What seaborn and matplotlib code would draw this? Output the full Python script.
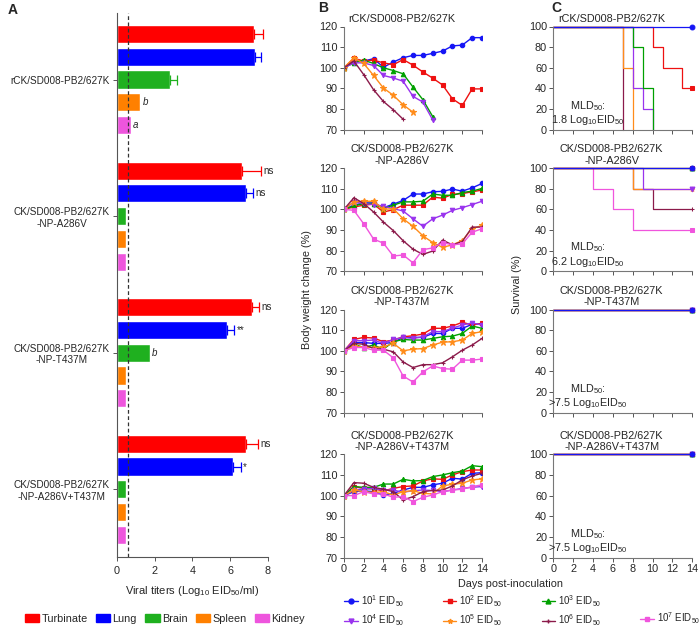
import pandas as pd
import matplotlib
matplotlib.use("Agg")
import matplotlib.pyplot as plt
import seaborn as sns
from matplotlib.lines import Line2D
from matplotlib.patches import Patch

sns.set_style("ticks")
plt.rcParams['font.family'] = ['Liberation Sans', 'DejaVu Sans']
plt.rcParams['mathtext.fontset'] = 'custom'
plt.rcParams['mathtext.rm'] = 'Liberation Sans'
plt.rcParams['mathtext.it'] = 'Liberation Sans:italic'
plt.rcParams['font.size'] = 7.5

# ---------------- data ----------------
viruses = ["rCK/SD008-PB2/627K",
           "CK/SD008-PB2/627K\n-NP-A286V",
           "CK/SD008-PB2/627K\n-NP-T437M",
           "CK/SD008-PB2/627K\n-NP-A286V+T437M"]
organs = ["Turbinate", "Lung", "Brain", "Spleen", "Kidney"]
organ_colors = ["#FF0000", "#0000FF", "#1FB01F", "#FF8000", "#EE55DD"]

titer_turbinate = [7.26, 6.60, 7.17, 6.84]
titer_lung = [7.33, 6.84, 5.85, 6.17]
titer_brain = [2.84, 0.5, 1.75, 0.5]
titer_spleen = [1.25, 0.5, 0.5, 0.5]
titer_kidney = [0.74, 0.5, 0.5, 0.5]

sd_turbinate = [0.50, 1.02, 0.38, 0.64]
sd_lung = [0.30, 0.39, 0.37, 0.39]
sd_brain = [0.36, 0, 0, 0]
sd_spleen = [0, 0, 0, 0]
sd_kidney = [0, 0, 0, 0]

mark_turbinate = ["", "ns", "ns", "ns"]
mark_lung = ["", "ns", "**", "*"]
mark_brain = ["", "", "b", ""]
mark_spleen = ["b", "", "", ""]
mark_kidney = ["a", "", "", ""]

detection_limit = 0.6

doses = ["10$^1$ EID$_{50}$", "10$^2$ EID$_{50}$", "10$^3$ EID$_{50}$", "10$^4$ EID$_{50}$",
         "10$^5$ EID$_{50}$", "10$^6$ EID$_{50}$", "10$^7$ EID$_{50}$"]
dose_colors = ["#1515F5", "#EE1111", "#00A000", "#9933EE", "#FF8C1A", "#8B1A4A", "#F055DD"]
dose_markers = ["o", "s", "^", "v", "*", "+", "s"]

# body weight (%), days 0..14 (shorter = all mice dead)
bw_627k = [
    [100, 103.3, 103.3, 104.4, 100.3, 102.8, 104.9, 106, 106, 107, 108.1, 110.6, 111, 114.6, 114.6],
    [100, 104.6, 103.3, 103.7, 102.4, 101.5, 104, 101.3, 98, 95, 91.7, 85, 81.8, 89.8, 89.8],
    [100, 102.4, 103.7, 102.1, 100, 98.7, 97.1, 90.7, 84.6, 76.4],
    [100, 102.4, 102.4, 101.1, 96.3, 95.1, 93.5, 86.2, 83.4, 74.8],
    [100, 104.9, 102.1, 96.3, 90.2, 86.7, 82.1, 78.5],
    [100, 103.3, 96.7, 89.4, 83.7, 79.7, 75.1],
    [],
]
bw_a286v = [
    [100, 102, 103.1, 103.1, 100.8, 102.5, 104.3, 107.4, 107.4, 108.5, 108.7, 109.8, 108.8, 110.4, 112.5],
    [100, 101.1, 102, 102.5, 98.7, 99.8, 102, 102, 102, 105.9, 105.4, 107.2, 107.6, 108.5, 109.3],
    [100, 101.6, 102.8, 102.8, 100.3, 102, 103.6, 103.6, 103.9, 107.4, 106.8, 106.8, 108.1, 108.8, 110.1],
    [100, 103.6, 102.8, 102.3, 101.5, 100.3, 99.2, 95.4, 91.8, 95.4, 97.2, 99.5, 100.8, 102.3, 103.9],
    [100, 103.6, 103.9, 103.9, 100, 100.3, 95.4, 91.8, 87.2, 83.9, 81.6, 82.8, 84.9, 90.6, 92.2],
    [100, 105.6, 102.8, 98.7, 93.8, 89.7, 84.8, 80.7, 78.2, 79.8, 85.1, 82.8, 84.4, 91.4, 91.4],
    [100, 99.5, 93, 85.6, 83.6, 77.4, 77.9, 74.1, 80.5, 81.3, 83.9, 82.8, 83.3, 88.9, 90.6],
]
bw_t437m = [
    [100, 104, 104, 103.6, 103.6, 104, 106.5, 106.5, 106.5, 108.4, 108.4, 110.9, 110.9, 112.8, 113],
    [100, 105.5, 106.5, 106.2, 104.4, 105.2, 106.8, 107.3, 108.1, 110.9, 110.9, 112, 113.8, 112.5, 113.3],
    [100, 103.2, 101.6, 102.8, 100.8, 104.4, 105.5, 105.2, 105.2, 106, 106.8, 107.1, 108.4, 112, 110.9],
    [100, 104.9, 104.9, 105.2, 103.6, 105.5, 106.5, 106, 106.8, 109.3, 109.3, 111, 112.5, 113.5, 112.5],
    [100, 102.3, 101.9, 101.6, 101.9, 103.6, 100, 100.8, 101.1, 102.8, 104.2, 104.4, 105.2, 108.4, 109.3],
    [100, 103.6, 103.2, 101.1, 100.8, 99.5, 94.6, 91.9, 93.3, 93.3, 94.2, 97.1, 100.3, 102.8, 106],
    [100, 101.6, 101.6, 100.3, 100.3, 96.6, 87.8, 84.9, 89.8, 92.7, 91.4, 91.1, 95.5, 95.5, 96],
]
bw_double = [
    [100, 101.9, 102.3, 101.9, 100.3, 101.1, 102.7, 104, 104, 105.2, 106, 108.4, 108, 110.8, 111.1],
    [100, 104.4, 103.5, 103.2, 102.3, 103.5, 104.4, 104.7, 107.1, 108.1, 107.9, 110, 111.6, 112.4, 112.4],
    [100, 104.4, 104, 104, 105.6, 105.6, 107.9, 107.1, 107.3, 109.2, 110, 111.1, 111.9, 114.5, 114],
    [100, 102.7, 103.2, 103.5, 102.7, 102.7, 101.6, 102.4, 102.7, 102.5, 101.9, 102.7, 103.5, 104, 104.4],
    [100, 102.7, 101.9, 101.5, 101.9, 100.3, 101.9, 102.4, 101.1, 100.8, 104.7, 105.5, 106, 107.6, 108.1],
    [100, 106.3, 106, 104, 103.1, 101.9, 97.9, 99.5, 101.9, 102.5, 102.7, 104.7, 107.6, 109.5, 110.8],
    [100, 100, 101.9, 100.8, 100.8, 99.2, 99.5, 97.1, 99.2, 100.3, 101.9, 102.7, 103.1, 104.4, 105.2],
]

# survival (%), days 0..14
surv_627k = [
    [100] * 15,
    [100] * 10 + [80, 60, 60, 40, 40],
    [100] * 8 + [80, 40, 0],
    [100] * 8 + [40, 20, 0],
    [100] * 7 + [60, 0],
    [100] * 7 + [0],
    [],
]
surv_a286v = [
    [100] * 15,
    [100] * 15,
    [100] * 15,
    [100] * 9 + [80] * 6,
    [100] * 8 + [80] * 7,
    [100] * 8 + [80, 80] + [60] * 5,
    [100] * 4 + [80, 80, 60, 60] + [40] * 7,
]
surv_t437m = [[100] * 15 for _ in range(7)]
surv_double = [[100] * 15 for _ in range(7)]

mld50 = ["1.8 Log$_{10}$EID$_{50}$", "6.2 Log$_{10}$EID$_{50}$",
         ">7.5 Log$_{10}$EID$_{50}$", ">7.5 Log$_{10}$EID$_{50}$"]

W, H = 700, 629
fig = plt.figure(figsize=(7, 6.29), dpi=100)
spine_col = "#555555"

# ---------------- panel A ----------------
axA = fig.add_axes([116.7 / W, 1 - 557 / H, 151.3 / W, 544 / H])
titers = [titer_turbinate, titer_lung, titer_brain, titer_spleen, titer_kidney]
sds = [sd_turbinate, sd_lung, sd_brain, sd_spleen, sd_kidney]
marks = [mark_turbinate, mark_lung, mark_brain, mark_spleen, mark_kidney]
df = pd.DataFrame({
    'virus': [v for o in organs for v in viruses],
    'organ': [o for o in organs for v in viruses],
    'titer': [t for tl in titers for t in tl],
})
sns.barplot(data=df, x='titer', y='virus', hue='organ', orient='h',
            palette=organ_colors, saturation=1, width=5 / 6, gap=0.2,
            legend=False, ax=axA)
bar_conts = list(axA.containers)
for i, cont in enumerate(bar_conts):
    for j, p in enumerate(cont.patches):
        yc = p.get_y() + p.get_height() / 2
        w = p.get_width()
        if sds[i][j] > 0:
            axA.errorbar(w, yc, xerr=[[0], [sds[i][j]]], color=organ_colors[i],
                         capsize=3.5, lw=0.9, capthick=0.9, fmt='none')
        m = marks[i][j]
        if m:
            style = 'italic' if m in ('a', 'b') else 'normal'
            axA.text(w + sds[i][j] + 0.12, yc, m, va='center', ha='left',
                     fontsize=7, style=style)
axA.axvline(detection_limit, color='#333333', ls=(0, (3, 2)), lw=0.9)
axA.set_xlim(0, 8)
axA.set_ylim(3.495, -0.487)
axA.set_xticks([0, 2, 4, 6, 8])
axA.set_ylabel("")
axA.set_xlabel("Viral titers (Log$_{10}$ EID$_{50}$/ml)", labelpad=6, fontsize=8)
axA.tick_params(axis='both', length=3, width=0.7, color=spine_col, labelsize=7.8)
axA.tick_params(axis='y', labelsize=7.2, pad=2)
for t in axA.get_yticklabels():
    t.set_multialignment('center')
sns.despine(ax=axA)
for s in ['left', 'bottom']:
    axA.spines[s].set_color(spine_col)
    axA.spines[s].set_linewidth(0.8)

# ---------------- panels B and C ----------------
tops = [26.5, 168, 309.5, 454.3]
ph = 103.3
bw_sets = [bw_627k, bw_a286v, bw_t437m, bw_double]
surv_sets = [surv_627k, surv_a286v, surv_t437m, surv_double]

for r in range(4):
    bottom = 1 - (tops[r] + ph) / H
    axB = fig.add_axes([344 / W, bottom, 138 / W, ph / H])
    axC = fig.add_axes([553.3 / W, bottom, 139 / W, ph / H])

    for k in range(7):
        vals = bw_sets[r][k]
        if not vals:
            continue
        sns.lineplot(x=list(range(len(vals))), y=vals, ax=axB, color=dose_colors[k],
                     marker=dose_markers[k], markersize=3.2 if k != 4 else 4.5,
                     mec=dose_colors[k], mew=0.8, lw=1.0)

    for k in reversed(range(7)):
        vals = surv_sets[r][k]
        if not vals:
            continue
        n = len(vals)
        every = [n - 1] if (n == 15 and vals[-1] > 0) else []
        sns.lineplot(x=list(range(n)), y=vals, ax=axC, color=dose_colors[k],
                     drawstyle='steps-post', lw=0.9, marker=dose_markers[k] if every else None,
                     markevery=every if every else None, markersize=3.5,
                     mec=dose_colors[k], clip_on=False)

    title = viruses[r]
    axB.set_title(title, fontsize=7.8, x=0.42, pad=3)
    axC.set_title(title, fontsize=7.8, x=0.42, pad=3)

    axB.set_xlim(0, 14)
    axB.set_ylim(70, 120)
    axB.set_yticks([70, 80, 90, 100, 110, 120])
    axC.set_xlim(0, 14)
    axC.set_ylim(0, 100)
    axC.set_yticks([0, 20, 40, 60, 80, 100])
    for ax in (axB, axC):
        ax.set_xticks(range(0, 15, 2))
        ax.set_xlabel("")
        ax.set_ylabel("")
        ax.tick_params(axis='both', length=3, width=0.7, color=spine_col,
                       labelsize=7.8, pad=1.5)
        if r < 3:
            ax.tick_params(axis='x', labelbottom=False)
        sns.despine(ax=ax)
        for s in ['left', 'bottom']:
            ax.spines[s].set_color("#777777")
            ax.spines[s].set_linewidth(0.8)

    axC.text(3.5, 16, "MLD$_{50}$:\n" + mld50[r], ha='center', va='center',
             fontsize=7.8, linespacing=1.05)

# ---------------- labels and legends ----------------
fig.text(8 / W, 1 - 3 / H, "A", fontsize=10, weight='bold', va='top')
fig.text(318 / W, 1 - 1 / H, "B", fontsize=10, weight='bold', va='top')
fig.text(551 / W, 1 - 1 / H, "C", fontsize=10, weight='bold', va='top')
fig.text(307 / W, 1 - 290 / H, "Body weight change (%)", rotation=90,
         ha='center', va='center', fontsize=7.8)
fig.text(517 / W, 1 - 285 / H, "Survival (%)", rotation=90,
         ha='center', va='center', fontsize=7.8)
fig.text(510 / W, 1 - 584 / H, "Days post-inoculation", ha='center', va='center',
         fontsize=7.8)

organ_handles = [Patch(color=c, label=o) for c, o in zip(organ_colors, organs)]
fig.legend(handles=organ_handles, ncol=5, loc='center', bbox_to_anchor=(165 / W, 1 - 619 / H),
           frameon=False, fontsize=7.8, handlelength=1.3, handleheight=0.8,
           handletextpad=0.2, columnspacing=0.8, borderpad=0)

dose_handles = [Line2D([0], [0], color=c, marker=m, ms=3.5, lw=1, mec=c)
                for c, m in zip(dose_colors, dose_markers)]
blank = Line2D([0], [0], color='none')
order = [0, 3, 1, 4, 2, 5]
handles = [dose_handles[i] for i in order] + [blank, dose_handles[6]]
labels = [doses[i] for i in order] + ["", doses[6]]
fig.legend(handles=handles, labels=labels, ncol=4, loc='upper left',
           bbox_to_anchor=(344 / W, 1 - 593 / H), frameon=False, fontsize=7,
           handlelength=1.4, handletextpad=0.3, columnspacing=4.0,
           labelspacing=0.4, borderpad=0, borderaxespad=0)

fig.savefig("out.png", dpi=100)
